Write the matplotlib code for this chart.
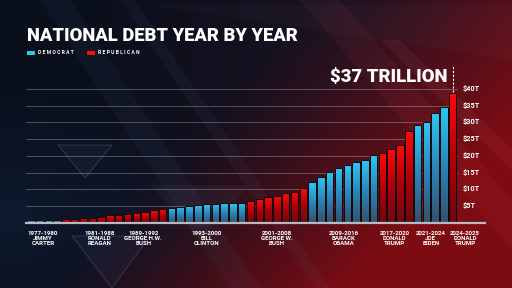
import numpy as np
import matplotlib
matplotlib.use("Agg")
import matplotlib.pyplot as plt
from matplotlib.colors import LinearSegmentedColormap
from matplotlib.patches import Polygon

# debt in trillions, one bar per year 1977-2025
years = list(range(1977, 2026))
debt = [0.7, 0.8, 0.8, 0.9,
        1.0, 1.1, 1.3, 1.5, 1.8, 2.2, 2.4, 2.7, 2.9, 3.2, 3.8, 4.1,
        4.5, 4.8, 5.1, 5.4, 5.6, 5.7, 5.8, 5.8, 6.0,
        6.6, 7.0, 7.8, 8.1, 8.8, 9.3, 10.3,
        12.2, 13.8, 15.1, 16.5, 17.2, 18.3, 18.8, 20.3,
        20.8, 22.1, 23.3, 27.5,
        29.2, 30.0, 32.9, 34.5,
        38.9]
party = ["D"] * 4 + ["R"] * 12 + ["D"] * 9 + ["R"] * 7 + ["D"] * 8 + ["R"] * 4 + ["D"] * 4 + ["R"]

term_labels = ["1977-1980\nJIMMY\nCARTER", "1981-1988\nRONALD\nREAGAN",
               "1989-1992\nGEORGE H.W.\nBUSH", "1993-2000\nBILL\nCLINTON",
               "2001-2008\nGEORGE W.\nBUSH", "2009-2016\nBARACK\nOBAMA",
               "2017-2020\nDONALD\nTRUMP", "2021-2024\nJOE\nBIDEN",
               "2024-2025\nDONALD\nTRUMP"]
term_label_x = [1.4, 7.8, 12.8, 20.0, 28.0, 35.6, 41.4, 45.5, 49.4]

y_ticks = [5, 10, 15, 20, 25, 30, 35, 40]
y_ticklabels = ["$%dT" % v for v in y_ticks]

W, H = 512, 288
fig = plt.figure(figsize=(W / 100, H / 100), dpi=100)

# ---- background
bg = fig.add_axes([0, 0, 1, 1])
bg.set_xlim(0, W)
bg.set_ylim(H, 0)
bg.axis("off")
yy, xx = np.mgrid[0:H, 0:W]
fx = xx / W
fy = yy / H
navy = np.array([10, 15, 28]) / 255.0
red = np.array([125, 12, 18]) / 255.0
purple = np.array([38, 20, 36]) / 255.0
t_red = np.clip((fx - 0.45) * 1.6 + (fy - 0.3) * 0.9, 0, 1) ** 1.3
t_pur = np.clip(fx * 1.2 - 0.2, 0, 1) * (1 - t_red)
img = navy[None, None, :] * (1 - t_red - t_pur)[..., None] \
    + red[None, None, :] * t_red[..., None] + purple[None, None, :] * t_pur[..., None]
# a touch of blue on the lower left
t_blue = np.clip(1 - np.hypot(fx - 0.0, fy - 0.75) * 2.2, 0, 1) * 0.35
img = img * (1 - t_blue[..., None]) + np.array([20, 45, 80])[None, None, :] / 255.0 * t_blue[..., None]
bg.imshow(img, extent=[0, W, H, 0], aspect="auto", zorder=0)

streaks = [
    ([(40, 0), (70, 0), (260, 288), (230, 288)], "#5a7aa0", 0.07),
    ([(120, 0), (135, 0), (330, 288), (315, 288)], "#8aa0c8", 0.05),
    ([(300, 0), (340, 0), (512, 200), (512, 250)], "#ff6070", 0.06),
    ([(380, 40), (400, 40), (512, 150), (512, 170)], "#ff8090", 0.07),
    ([(58, 145), (112, 145), (85, 178)], "#6f8cc0", 0.07),
    ([(72, 236), (150, 236), (112, 288)], "#7f98c8", 0.06),
    ([(150, 185), (250, 185), (200, 240)], "#9ab0d8", 0.05),
    ([(150, 5), (512, 5), (512, 60)], "#ffffff", 0.02),
]
for pts, c, a in streaks:
    bg.add_patch(Polygon(pts, closed=True, facecolor=c, edgecolor="none", alpha=a, zorder=1))
for pts in [[(58, 145), (112, 145), (85, 178)], [(72, 236), (150, 236), (112, 288)]]:
    bg.add_patch(Polygon(pts, closed=True, facecolor="none", edgecolor="#9ab0e0",
                         lw=0.6, alpha=0.25, zorder=1))

# ---- chart axes
x0, x1 = 25.5, 458.0
ytop, ybot = 82.4, 222.7
ax = fig.add_axes([x0 / W, (H - ybot) / H, (x1 - x0) / W, (ybot - ytop) / H])
ax.patch.set_alpha(0)
for s in ax.spines.values():
    s.set_visible(False)
ax.set_xticks([])
ax.set_yticks([])

for v in y_ticks:
    ax.axhline(v, color="#c8c8d0", lw=0.7, alpha=0.35, zorder=1)

blue_cmap = LinearSegmentedColormap.from_list("b", ["#34506c", "#2a86b8", "#2ec6f4"])
red_cmap = LinearSegmentedColormap.from_list("r", ["#6a0a10", "#b00008", "#ff0a0a"])
grad = np.linspace(0, 1, 128)[:, None]
bw = 0.85
xs = np.arange(len(years))
bars = ax.bar(xs, debt, width=bw, color="none", edgecolor="#12080c", lw=0.7, zorder=3)
for b, x, v, p in zip(bars, xs, debt, party):
    cm = blue_cmap if p == "D" else red_cmap
    im = ax.imshow(grad, cmap=cm, origin="lower", aspect="auto",
                   extent=[x - bw / 2, x + bw / 2, 0, v], zorder=2)
    im.set_clip_path(b)

ax.set_xlim(-0.6, len(years) - 0.4)
ax.set_ylim(0, 42)

# baseline
ax.plot([0, 1.062], [0, 0], transform=ax.transAxes, color="#b8b8c0", lw=1.6,
        clip_on=False, zorder=4)

# right-hand value labels
for v, lab in zip(y_ticks, y_ticklabels):
    ax.annotate(lab, xy=(1, v), xycoords=("axes fraction", "data"), xytext=(3, 0),
                textcoords="offset points", ha="left", va="center", color="white",
                fontsize=5.2, fontweight="bold", family="Roboto")

# president / term labels
for lab, x in zip(term_labels, term_label_x):
    ax.annotate(lab, xy=(x, 0), xycoords=("data", "axes fraction"), xytext=(0, -6.3),
                textcoords="offset points", ha="center", va="top", color="white",
                fontsize=4.4, fontweight="bold", family="Roboto", linespacing=1.0)

# $37 trillion callout
last = len(years) - 1
ax.plot([last, last], [debt[-1] + 0.2, 47], color="white", lw=0.8, ls=(0, (2, 1.5)),
        clip_on=False, zorder=4)
ax.text(last - 0.65, 42.0, "$37 TRILLION", ha="right", va="baseline", color="white",
        fontsize=13.3, fontweight="black", family="Roboto", clip_on=False)

# title and legend
fig.text(27 / W, 1 - 41 / H, "NATIONAL DEBT YEAR BY YEAR", ha="left", va="baseline",
         color="white", fontsize=13.2, fontweight="black", family="Roboto")
fig.patches.append(plt.Rectangle((27 / W, 1 - 54.5 / H), 8 / W, 4 / H, transform=fig.transFigure,
                                 facecolor="#2ec6f4", edgecolor="none"))
fig.text(38 / W, 1 - 54.5 / H, " ".join("DEMOCRAT"), ha="left", va="baseline",
         color="white", fontsize=3.6, fontweight="bold", family="Roboto")
fig.patches.append(plt.Rectangle((87 / W, 1 - 54.5 / H), 8 / W, 4 / H, transform=fig.transFigure,
                                 facecolor="#ff0a0a", edgecolor="none"))
fig.text(98 / W, 1 - 54.5 / H, " ".join("REPUBLICAN"), ha="left", va="baseline",
         color="white", fontsize=3.6, fontweight="bold", family="Roboto")

fig.savefig("out.png", dpi=100)
